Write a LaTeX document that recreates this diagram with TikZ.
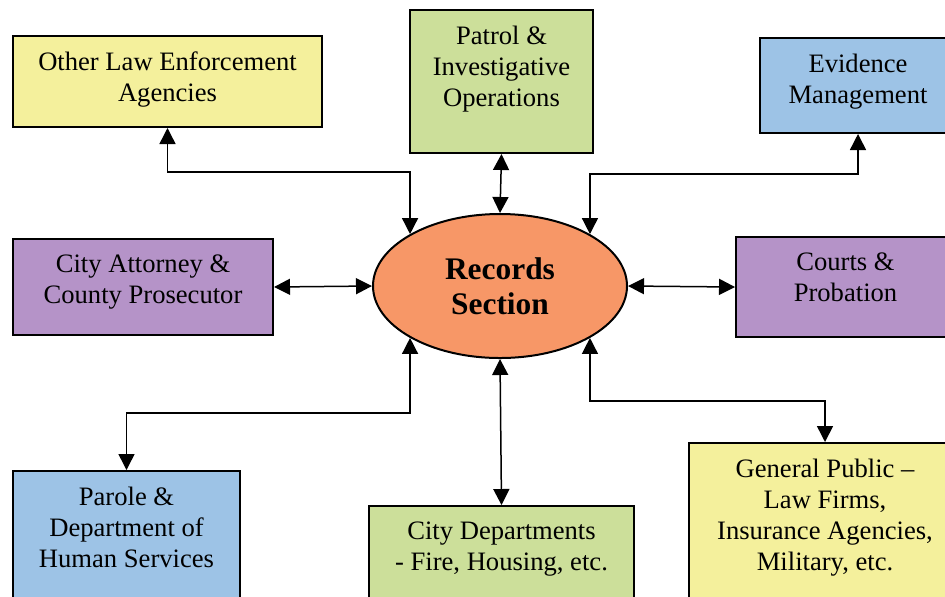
\documentclass[tikz,border=0pt]{standalone}
\usepackage{fontspec}
\setmainfont{Liberation Serif}
\usepackage{tikz}
\usetikzlibrary{arrows.meta, shapes.geometric}

\definecolor{ylw}{HTML}{F4F09C}
\definecolor{grn}{HTML}{CCDF9A}
\definecolor{blu}{HTML}{9DC3E6}
\definecolor{prp}{HTML}{B593C8}
\definecolor{orng}{HTML}{F79767}

\begin{document}
\begin{tikzpicture}[x=0.5pt,y=-0.5pt]
  \tikzstyle{box}=[rectangle, draw, line width=1pt, anchor=north west, inner sep=0pt]
  \tikzstyle{txt}=[align=center, inner sep=0pt, anchor=north, yshift=-8.4pt, font=\fontsize{13.3}{15.5}\selectfont]
  \tikzstyle{link}=[{Triangle[length=8pt,width=8pt]}-{Triangle[length=8pt,width=8pt]}, line width=0.75pt]
  \useasboundingbox (0,0) rectangle (945,596);
  \clip (0,0) rectangle (945,596);

  \node[ellipse, draw, line width=1pt, fill=orng, minimum width=127pt, minimum height=72pt, inner sep=0pt,
        align=center, font=\fontsize{15.7}{17.5}\selectfont\bfseries] (0) at (500,286) {Records\\Section};

  \node[box, fill=ylw, minimum width=154.5pt, minimum height=45.5pt,
        label={[txt]north:{Other Law Enforcement\\Agencies}}] (1) at (12,35) {};
  \node[box, fill=grn, minimum width=91.5pt, minimum height=71.5pt,
        label={[txt]north:{Patrol \&\\Investigative\\Operations}}] (2) at (409,9) {};
  \node[box, fill=blu, minimum width=98pt, minimum height=47.5pt,
        label={[txt]north:{Evidence\\Management}}] (3) at (759,37) {};
  \node[box, fill=prp, minimum width=130pt, minimum height=48pt,
        label={[txt]north:{City Attorney \&\\County Prosecutor}}] (4) at (12,238) {};
  \node[box, fill=prp, minimum width=109.5pt, minimum height=50pt,
        label={[txt]north:{Courts \&\\Probation}}] (5) at (735,236) {};
  \node[box, fill=blu, minimum width=113.5pt, minimum height=75pt,
        label={[txt]north:{Parole \&\\Department of\\Human Services}}] (6) at (12,470) {};
  \node[box, fill=grn, minimum width=132.5pt, minimum height=60pt,
        label={[txt]north:{City Departments\\- Fire, Housing, etc.}}] (7) at (368,505) {};
  \node[box, fill=ylw, minimum width=136pt, minimum height=90pt,
        label={[txt]north:{General Public --\\Law Firms,\\Insurance Agencies,\\Military, etc.}}] (8) at (688,442) {};

  \draw[link] (1.south) -- ++(0,44) -| (0.150);
  \draw[link] (2.south) -- (0.north);
  \draw[link] (3.south) -- ++(0,40) -| (0.30);
  \draw[link] (4.east) -- (0.west);
  \draw[link] (0.east) -- (5.west);
  \draw[link] (6.north) -- ++(0,-57) -| (0.210);
  \draw[link] (7.north) -- (0.south);
  \draw[link] (8.north) -- ++(0,-41) -| (0.330);
\end{tikzpicture}
\end{document}
